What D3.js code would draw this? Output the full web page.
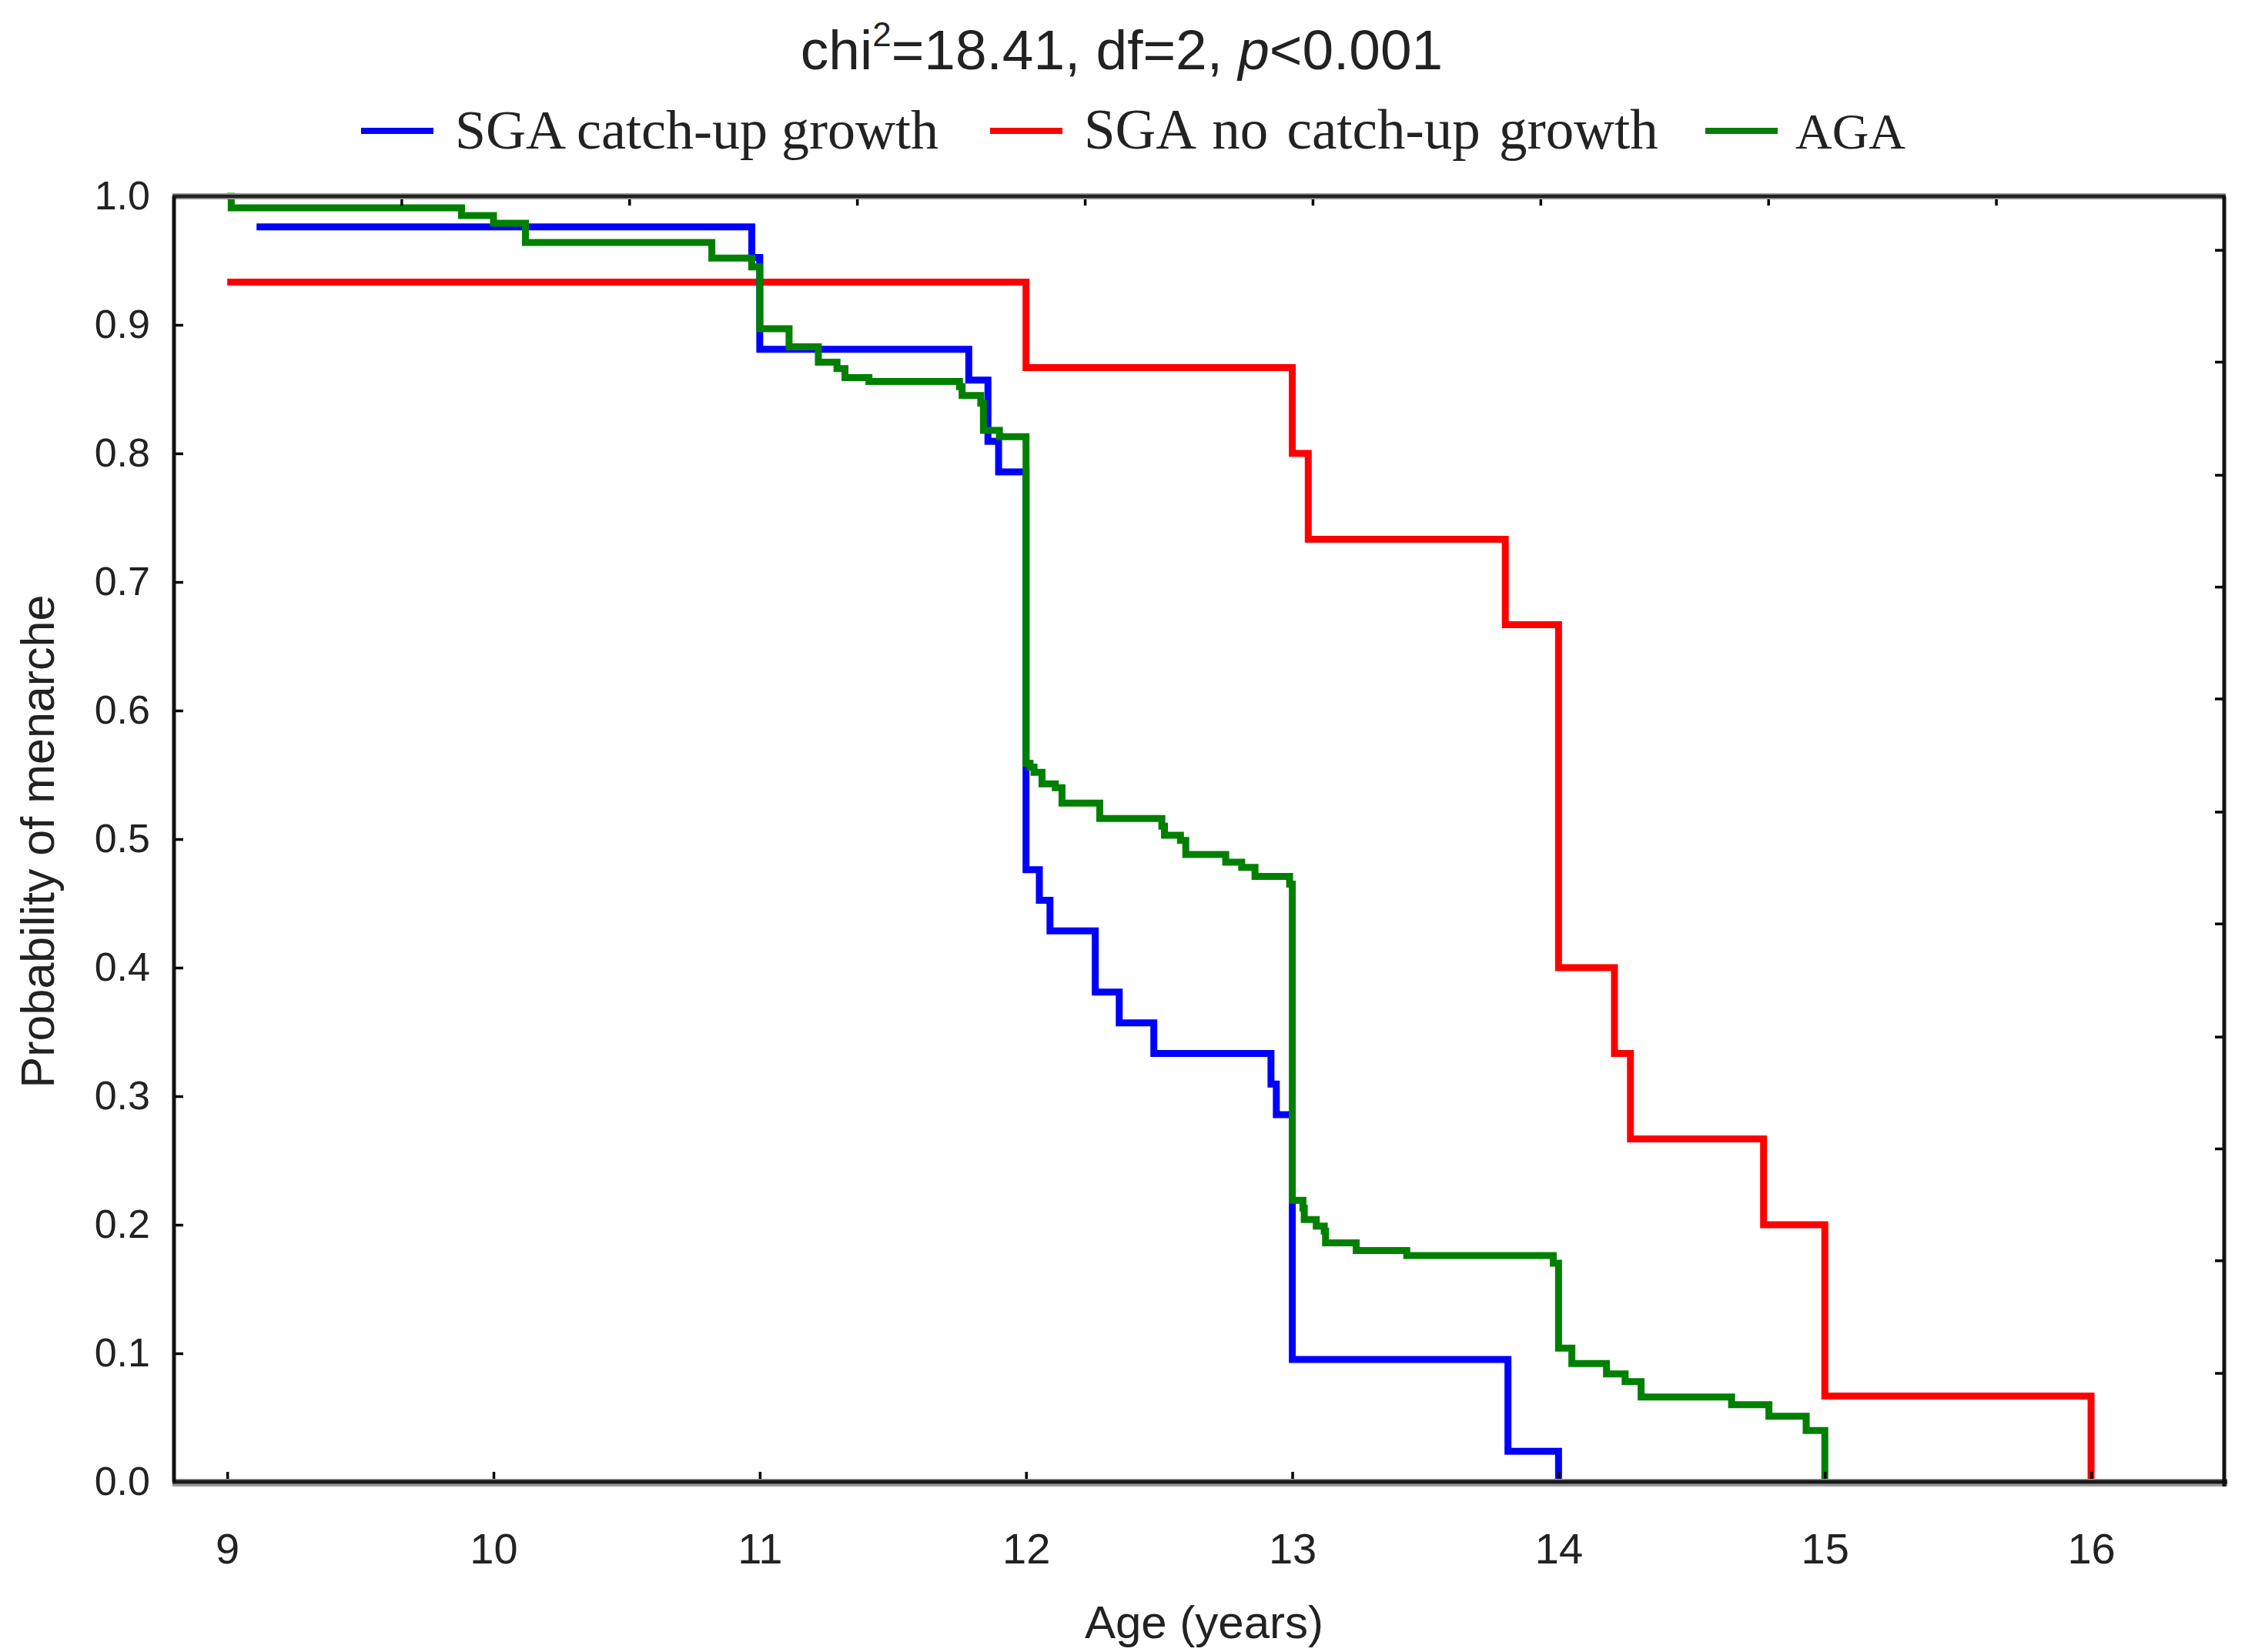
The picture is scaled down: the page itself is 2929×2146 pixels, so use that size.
<!DOCTYPE html>
<html>
<head>
<meta charset="utf-8">
<script src="https://cdn.jsdelivr.net/npm/d3@7"></script>
<style>
  html, body { margin: 0; padding: 0; background: #ffffff; }
  svg { display: block; }
</style>
</head>
<body>
<svg id="chart" width="2929" height="2146"></svg>
<script>
// ---------------- data ----------------
const seriesNames = ["SGA catch-up growth", "SGA no catch-up growth", "AGA"];
const seriesColors = ["#0000ff", "#ff0000", "#008000"];

// [age (years), probability]
const sgaCatchUp = [
  [9.11, 0.9762], [10.97, 0.9524], [11.0, 0.8810], [11.785, 0.8571], [11.857, 0.8095],
  [11.897, 0.7857], [12.0, 0.4762], [12.05, 0.4524], [12.09, 0.4286], [12.26, 0.3810],
  [12.35, 0.3571], [12.48, 0.3333], [12.92, 0.3095], [12.94, 0.2857], [13.0, 0.0952],
  [13.81, 0.0238], [14.0, 0.0]
];
const sgaNoCatchUp = [
  [9.0, 0.9333], [12.0, 0.8667], [13.0, 0.8000], [13.06, 0.7333], [13.8, 0.6667],
  [14.0, 0.4000], [14.21, 0.3333], [14.27, 0.2667], [14.77, 0.2000], [15.0, 0.0667],
  [16.0, 0.0]
];
const aga = [
  [9.0, 1.0], [9.015, 0.991], [9.88, 0.985], [10.0, 0.979], [10.12, 0.964], [10.82, 0.952],
  [10.97, 0.945], [11.0, 0.897], [11.11, 0.883], [11.22, 0.871], [11.29, 0.866], [11.32, 0.859],
  [11.41, 0.856], [11.75, 0.852], [11.76, 0.845], [11.83, 0.839], [11.84, 0.818], [11.9, 0.813],
  [12.0, 0.559], [12.015, 0.556], [12.03, 0.552], [12.06, 0.543], [12.11, 0.540], [12.135, 0.528],
  [12.277, 0.516], [12.51, 0.510], [12.52, 0.503], [12.58, 0.499], [12.6, 0.488], [12.75, 0.482],
  [12.81, 0.478], [12.86, 0.471], [12.99, 0.465], [13.0, 0.219], [13.04, 0.213], [13.045, 0.204],
  [13.09, 0.199], [13.12, 0.195], [13.125, 0.186], [13.24, 0.180], [13.43, 0.176], [13.98, 0.170],
  [14.0, 0.104], [14.05, 0.092], [14.18, 0.084], [14.25, 0.078], [14.31, 0.066], [14.65, 0.060],
  [14.79, 0.051], [14.93, 0.040], [15.0, 0.0]
];
const allSeries = [sgaCatchUp, sgaNoCatchUp, aga];

const xTicks = [9, 10, 11, 12, 13, 14, 15, 16];
const yTicks = [0, 0.1, 0.2, 0.3, 0.4, 0.5, 0.6, 0.7, 0.8, 0.9, 1.0];
const xDomain = [8.8, 16.5];
const yDomain = [0, 1];
// extra (unlabelled) ticks on the opposite frame sides, as drawn by the original software
const topTickFractions = [1, 2, 3, 4, 5, 6, 7, 8].map(k => k / 9);
const rightTickValues = [0.0844, 0.172, 0.259, 0.346, 0.434, 0.521, 0.609, 0.696, 0.783, 0.871, 0.958];

const titleParts = { pre: "chi", sup: "2", mid: "=18.41, df=2, ", ital: "p", post: "<0.001" };
const xLabel = "Age (years)";
const yLabel = "Probability of menarche";

// ---------------- layout ----------------
const W = 2929, H = 2146;
const M = { left: 226, right: 2889, top: 255, bottom: 1925 };
const sans = "'Liberation Sans', Arial, sans-serif";
const serif = "'Liberation Serif', 'Times New Roman', serif";

const svg = d3.select("#chart");
svg.append("rect").attr("width", W).attr("height", H).attr("fill", "#fff");

const x = d3.scaleLinear().domain(xDomain).range([M.left, M.right]);
const y = d3.scaleLinear().domain(yDomain).range([M.bottom, M.top]);

// ---------------- data lines ----------------
const line = d3.line().x(d => x(d[0])).y(d => y(d[1])).curve(d3.curveStepAfter);
const drawOrder = [1, 0, 2];
drawOrder.forEach(i => {
  svg.append("path")
    .datum(allSeries[i])
    .attr("fill", "none")
    .attr("stroke", seriesColors[i])
    .attr("stroke-width", 9)
    .attr("stroke-linejoin", "miter")
    .attr("stroke-linecap", "butt")
    .attr("d", line);
});

// ---------------- axes ----------------
const xAxis = d3.axisBottom(x).tickValues(xTicks).tickSize(-13).tickPadding(66)
  .tickFormat(d3.format("d"));
const gx = svg.append("g").attr("transform", `translate(0,${M.bottom})`).call(xAxis);
gx.select(".domain").remove();
gx.selectAll(".tick line").attr("stroke", "#000").attr("stroke-width", 3.5);
gx.selectAll(".tick text").attr("font-family", sans).attr("font-size", 56).attr("fill", "#222");

const yAxis = d3.axisLeft(y).tickValues(yTicks).tickSize(-12).tickPadding(31)
  .tickFormat(d3.format(".1f"));
const gy = svg.append("g").attr("transform", `translate(${M.left},0)`).call(yAxis);
gy.select(".domain").remove();
gy.selectAll(".tick line").attr("stroke", "#000").attr("stroke-width", 3.5);
gy.selectAll(".tick text").attr("font-family", sans).attr("font-size", 52).attr("fill", "#222");

// top ticks (9 equal intervals) and right ticks
const xFrac = d3.scaleLinear().domain([0, 1]).range(xDomain);
svg.append("g").selectAll("line").data(topTickFractions).join("line")
  .attr("x1", d => x(xFrac(d))).attr("x2", d => x(xFrac(d)))
  .attr("y1", M.top).attr("y2", M.top + 12)
  .attr("stroke", "#000").attr("stroke-width", 3.5);
svg.append("g").selectAll("line").data(rightTickValues).join("line")
  .attr("x1", M.right).attr("x2", M.right - 12)
  .attr("y1", d => y(d)).attr("y2", d => y(d))
  .attr("stroke", "#000").attr("stroke-width", 3.5);

// frame
const frame = svg.append("g");
frame.append("line").attr("x1", M.left - 2).attr("x2", M.right + 4).attr("y1", M.bottom + 1).attr("y2", M.bottom + 1)
  .attr("stroke", "#9a9a9a").attr("stroke-width", 10);
frame.append("line").attr("x1", M.left - 2).attr("x2", M.right + 4).attr("y1", M.bottom).attr("y2", M.bottom)
  .attr("stroke", "#1a1a1a").attr("stroke-width", 5);
frame.append("line").attr("x1", M.left - 2).attr("x2", M.right + 2).attr("y1", M.top).attr("y2", M.top)
  .attr("stroke", "#9a9a9a").attr("stroke-width", 8);
frame.append("line").attr("x1", M.left - 2).attr("x2", M.right + 2).attr("y1", M.top).attr("y2", M.top)
  .attr("stroke", "#222").attr("stroke-width", 4.5);
frame.append("line").attr("x1", M.left).attr("x2", M.left).attr("y1", M.top).attr("y2", M.bottom)
  .attr("stroke", "#111").attr("stroke-width", 5);
frame.append("line").attr("x1", M.right).attr("x2", M.right).attr("y1", M.top).attr("y2", M.bottom + 6)
  .attr("stroke", "#111").attr("stroke-width", 5);

// ---------------- texts ----------------
const title = svg.append("text")
  .attr("x", 1457).attr("y", 90)
  .attr("text-anchor", "middle")
  .attr("font-family", sans).attr("font-size", 73).attr("fill", "#222");
title.append("tspan").text(titleParts.pre);
title.append("tspan").attr("font-size", 44).attr("dy", -30).text(titleParts.sup);
title.append("tspan").attr("dy", 30).text(titleParts.mid);
title.append("tspan").attr("font-style", "italic").text(titleParts.ital);
title.append("tspan").text(titleParts.post);

// legend
const legendX = [469, 1286, 2215];
const legendTextX = [591, 1408, 2332];
const legendTextSize = [72, 73, 66];
const legend = svg.append("g");
seriesNames.forEach((name, i) => {
  legend.append("line")
    .attr("x1", legendX[i]).attr("x2", legendX[i] + 94)
    .attr("y1", 170).attr("y2", 170)
    .attr("stroke", seriesColors[i]).attr("stroke-width", 8);
  legend.append("text")
    .attr("x", legendTextX[i]).attr("y", 193)
    .attr("font-family", serif).attr("font-size", legendTextSize[i]).attr("fill", "#222")
    .attr("word-spacing", i === 1 ? 6 : 0)
    .text(name);
});

svg.append("text")
  .attr("x", 1564).attr("y", 2128)
  .attr("text-anchor", "middle")
  .attr("font-family", sans).attr("font-size", 60).attr("fill", "#222")
  .text(xLabel);

svg.append("text")
  .attr("transform", "translate(70,1093) rotate(-90)")
  .attr("text-anchor", "middle")
  .attr("font-family", sans).attr("font-size", 61).attr("fill", "#222")
  .text(yLabel);
</script>
</body>
</html>
